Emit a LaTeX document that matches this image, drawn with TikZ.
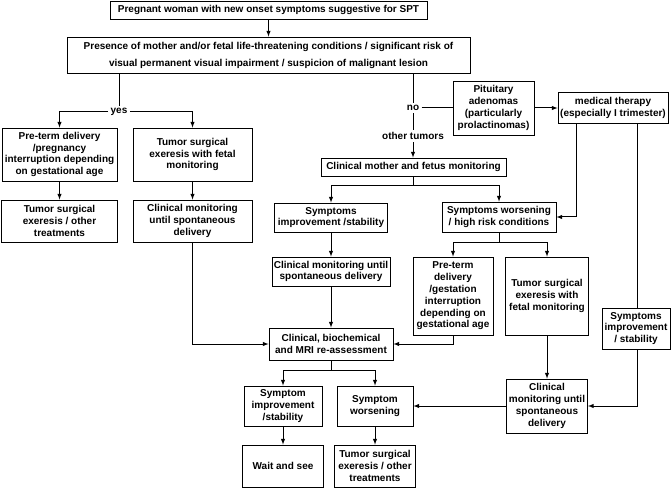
\documentclass[tikz,border=0pt]{standalone}
\usepackage{fontspec}
\setmainfont{Liberation Sans}
\usetikzlibrary{shapes,arrows}

\begin{document}
\begin{tikzpicture}[x=1pt,y=-1pt,>=latex,line width=1pt,
    blk/.style={rectangle,draw,line width=0.8pt,align=center,inner sep=0pt,
        font=\bfseries\fontsize{10}{11.8}\selectfont},
    lbl/.style={fill=white,inner sep=2pt,font=\bfseries\fontsize{10}{11.8}\selectfont}]
    \useasboundingbox (0,0) rectangle (672,489);
    % top of the chart
    \node[blk,minimum width=317pt,minimum height=18pt] (preg) at (268.5,10) {Pregnant woman with new onset symptoms suggestive for SPT};
    \node[blk,minimum width=403pt,minimum height=36pt,font=\bfseries\fontsize{10}{17}\selectfont] (pres) at (268.5,55) {Presence of mother and/or fetal life-threatening conditions / significant risk of\\ visual permanent visual impairment / suspicion of malignant lesion};
    \draw[->] (preg) -- (pres);
    % yes branch
    \node[lbl] (yes) at (119,112) {yes};
    \node[blk,minimum width=115pt,minimum height=53pt] (pre1) at (59.5,154.5) {Pre-term delivery\\ /pregnancy\\ interruption depending\\ on gestational age};
    \node[blk,minimum width=119pt,minimum height=53pt] (tum1) at (192.5,154.5) {Tumor surgical\\ exeresis with fetal\\ monitoring};
    \node[blk,minimum width=116pt,minimum height=42pt] (tum2) at (59.5,221) {Tumor surgical\\ exeresis / other\\ treatments};
    \node[blk,minimum width=119pt,minimum height=42pt] (clin1) at (192.5,221) {Clinical monitoring\\ until spontaneous\\ delivery};
    \draw (pres.south -| yes) -- (yes);
    \draw[->] (yes) -| (pre1);
    \draw[->] (yes) -| (tum1);
    \draw[->] (pre1) -- (tum2);
    \draw[->] (tum1) -- (clin1);
    % no branch
    \node[lbl] (no) at (413,108) {no};
    \node[lbl] (other) at (413,136) {other tumors};
    \node[blk,minimum width=81pt,minimum height=54pt] (pit) at (493.5,108) {Pituitary\\ adenomas\\ (particularly\\ prolactinomas)};
    \node[blk,minimum width=110pt,minimum height=31pt] (med) at (613,108) {medical therapy\\ (especially I trimester)};
    \node[blk,minimum width=185pt,minimum height=18pt] (moth) at (413.5,167) {Clinical mother and fetus monitoring};
    \draw (pres.south -| no) -- (no);
    \draw (no) -- (other);
    \draw[->] (other) -- (moth.north -| other);
    \draw (no) -- (pit);
    \draw[->] (pit) -- (med);
    \coordinate (medL) at ([xshift=-37pt]med.south);
    \coordinate (medR) at ([xshift=24pt]med.south);
    % monitoring outcomes
    \node[blk,minimum width=113pt,minimum height=29pt] (impr) at (331,217.5) {Symptoms\\ improvement /stability};
    \node[blk,minimum width=114pt,minimum height=30pt] (wors) at (499,217) {Symptoms worsening\\ / high risk conditions};
    \node[blk,minimum width=118pt,minimum height=29pt] (clin2) at (331,271.5) {Clinical monitoring until\\ spontaneous delivery};
    \node[blk,minimum width=80pt,minimum height=78pt] (pre2) at (453,296) {Pre-term\\ delivery\\ /gestation\\ interruption\\ depending on\\ gestational age};
    \node[blk,minimum width=83pt,minimum height=78pt] (tum3) at (547,296) {Tumor surgical\\ exeresis with\\ fetal monitoring};
    \node[blk,minimum width=68pt,minimum height=41pt] (impr2) at (636,328.5) {Symptoms\\ improvement\\ / stability};
    \draw[->] (moth.south -| other) -- ++(0,9) -| (impr);
    \draw[->] (moth.south -| other) -- ++(0,9) -| (wors);
    \draw[->] (medL) |- (wors);
    \draw (medR) -- (medR |- impr2.north);
    \draw[->] (impr) -- (clin2);
    \draw[->] (wors.south) -- ++(0,10) -| (pre2);
    \draw[->] (wors.south) -- ++(0,10) -| (tum3);
    % re-assessment
    \node[blk,minimum width=124pt,minimum height=32pt] (reas) at (331,344) {Clinical, biochemical\\ and MRI re-assessment};
    \node[blk,minimum width=81pt,minimum height=54pt] (clin3) at (547,406) {Clinical\\ monitoring until\\ spontaneous\\ delivery};
    \draw[->] (clin2) -- (reas);
    \draw[->] (clin1) |- (reas);
    \draw[->] (pre2) |- (reas);
    \draw[->] (tum3) -- (clin3);
    \draw[->] (medR |- impr2.south) |- (clin3);
    % final steps
    \node[blk,minimum width=78pt,minimum height=40pt] (simp) at (283,406) {Symptom\\ improvement\\ /stability};
    \node[blk,minimum width=76pt,minimum height=40pt] (swor) at (375,406) {Symptom\\ worsening};
    \node[blk,minimum width=81pt,minimum height=42pt] (wait) at (283,466) {Wait and see};
    \node[blk,minimum width=81pt,minimum height=42pt] (tum4) at (375,466) {Tumor surgical\\ exeresis / other\\ treatments};
    \draw[->] (reas.south) -- ++(0,10) -| (simp);
    \draw[->] (reas.south) -- ++(0,10) -| (swor);
    \draw[->] (clin3) -- (swor);
    \draw[->] (simp) -- (wait);
    \draw[->] (swor) -- (tum4);
\end{tikzpicture}
\end{document}
